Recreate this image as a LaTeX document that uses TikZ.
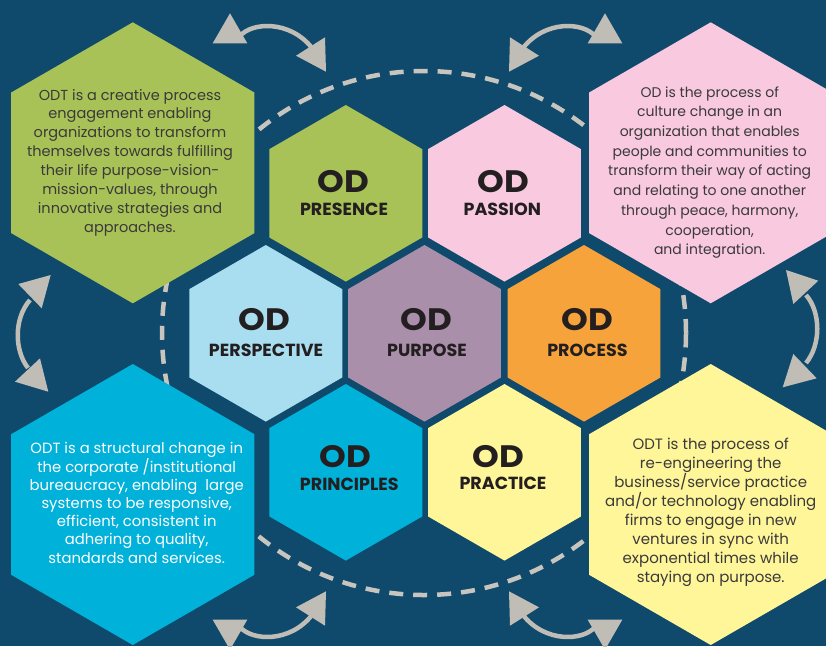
\documentclass[tikz,border=0pt]{standalone}
\usepackage{fontspec}
\setmainfont{Poppins}
\definecolor{bg}{HTML}{0F4A6C}
\definecolor{cgreen}{HTML}{A8C257}
\definecolor{cpink}{HTML}{F8C9DF}
\definecolor{clblue}{HTML}{A9DEF1}
\definecolor{cpurple}{HTML}{A98FAA}
\definecolor{corange}{HTML}{F7A33B}
\definecolor{ccyan}{HTML}{00B1DA}
\definecolor{cyellow}{HTML}{FFF69A}
\definecolor{cgray}{HTML}{C0BCB6}
\definecolor{cdash}{HTML}{C8C4BE}
\definecolor{ctext}{HTML}{231F20}
\definecolor{cbody}{HTML}{3A3A3A}
\tikzset{
  dashring/.style={draw=cdash, line width=4.5pt, dash pattern=on 14pt off 10pt},
  shaft/.style={draw=cgray, line width=4.5pt},
  headtri/.style={fill=cgray},
  odtext/.style={text=ctext, font=\fontsize{31}{31}\selectfont\bfseries, inner sep=0pt},
  labtext/.style={text=ctext, font=\fontsize{17.5}{18}\selectfont\bfseries, inner sep=0pt},
  bodytext/.style={text=cbody, align=center, inner sep=0pt},
}
\newcommand\hexfill[4]{\fill[#4] (#1,#2) +(30:#3) -- +(90:#3) -- +(150:#3) -- +(210:#3) -- +(270:#3) -- +(330:#3) -- cycle;}
\newcommand\odword{\scalebox{1.1}[1]{OD}}
\begin{document}
\begin{tikzpicture}[x=1pt,y=-1pt]
\useasboundingbox (0,0) rectangle (826,646);
\clip (0,0) rectangle (826,646);
\fill[bg] (0,0) rectangle (826,646);
% dashed ring
\draw[dashring] (424,333) circle [radius=262pt];
% big hexagons
\hexfill{132.8}{162.8}{140.5}{cgreen}
\hexfill{710.7}{162.8}{140.5}{cpink}
\hexfill{132.8}{504.5}{140.5}{ccyan}
\hexfill{710.7}{504.5}{140.5}{cyellow}
% small hexagons
\hexfill{345.8}{193.3}{88.3}{cgreen}
\hexfill{504.5}{193.3}{88.3}{cpink}
\hexfill{265.8}{333.3}{88.3}{clblue}
\hexfill{424.5}{333.3}{88.3}{cpurple}
\hexfill{584}{333.3}{88.3}{corange}
\hexfill{345.8}{472.3}{88.3}{ccyan}
\hexfill{504.5}{472.3}{88.3}{cyellow}
% labels
\node[odtext] (od1) at (343.5,182) {\odword};
\node[labtext] (l1) at (344,209.7) {PRESENCE};
\node[odtext] (od2) at (503,182) {\odword};
\node[labtext] (l2) at (502.3,209.7) {PASSION};
\node[odtext] (od3) at (264.7,320) {\odword};
\node[labtext] (l3) at (266,350.3) {PERSPECTIVE};
\node[odtext] (od4) at (426.7,320) {\odword};
\node[labtext] (l4) at (427,350.3) {PURPOSE};
\node[odtext] (od5) at (587,320) {\odword};
\node[labtext] (l5) at (587.5,350.3) {PROCESS};
\node[odtext] (od6) at (345,456.5) {\odword};
\node[labtext] (l6) at (349.3,484) {PRINCIPLES};
\node[odtext] (od7) at (498,457) {\odword};
\node[labtext] (l7) at (503,483) {PRACTICE};
% body texts
\node[bodytext, font=\fontsize{14.5}{18.86}\selectfont] (tg) at (130,162.5) {ODT is a creative process\\engagement enabling\\organizations to transform\\themselves towards fulfilling\\their life purpose-vision-\\mission-values, through\\innovative strategies and\\approaches.};
\node[bodytext, font=\fontsize{14}{19.7}\selectfont] (tp) at (709.7,172.5) {OD is the process of\\culture change in an\\organization that enables\\people and communities to\\transform their way of acting\\and relating to one another\\through peace, harmony,\\cooperation,\\and integration.};
\node[bodytext, text=white, font=\fontsize{14.8}{18.2}\selectfont] (tb) at (136.7,503) {ODT is a structural change in\\the corporate /institutional\\bureaucracy, enabling\ \ large\\systems to be responsive,\\efficient, consistent in\\adhering to quality,\\standards and services.};
\node[bodytext, font=\fontsize{15}{19.05}\selectfont] (ty) at (710.7,512.5) {ODT is the process of\\re-engineering the\\business/service practice\\and/or technology enabling\\firms to engage in new\\ventures in sync with\\exponential times while\\staying on purpose.};
% arrows top-left
\draw[shaft] (240,36) .. controls (252,22) and (290,20) .. (312,48);
\fill[headtri] (230,13.3) -- (212.7,43.3) -- (247.3,43.3) -- cycle;
\fill[headtri] (325,37.3) -- (296,55.7) -- (326,71.7) -- cycle;
% top-right
\draw[shaft] (595,36) .. controls (583,22) and (545,20) .. (523,48);
\fill[headtri] (605,13.3) -- (587.7,43.3) -- (622.3,43.3) -- cycle;
\fill[headtri] (510,37.3) -- (539,55.7) -- (509,71.7) -- cycle;
% bottom-left
\draw[shaft] (240,627) .. controls (252,641) and (290,643) .. (312,615);
\fill[headtri] (230,649.7) -- (212.7,619.7) -- (247.3,619.7) -- cycle;
\fill[headtri] (325,625.7) -- (296,607.3) -- (326,591.3) -- cycle;
% bottom-right
\draw[shaft] (595,627) .. controls (583,641) and (545,643) .. (523,615);
\fill[headtri] (605,649.7) -- (587.7,619.7) -- (622.3,619.7) -- cycle;
\fill[headtri] (510,625.7) -- (539,607.3) -- (509,591.3) -- cycle;
% left
\draw[shaft] (30,300) .. controls (14,318) and (14,350) .. (28,368);
\fill[headtri] (50.7,275) -- (18.3,284) -- (41.7,308.3) -- cycle;
\fill[headtri] (40,358.3) -- (15,381.7) -- (48.3,391.7) -- cycle;
% right
\draw[shaft] (806,295) .. controls (821,312) and (821,345) .. (806,363);
\fill[headtri] (786,270) -- (818.3,280.7) -- (793.3,304) -- cycle;
\fill[headtri] (793.3,354) -- (816.7,378.3) -- (782.7,387.3) -- cycle;
\end{tikzpicture}
\end{document}
